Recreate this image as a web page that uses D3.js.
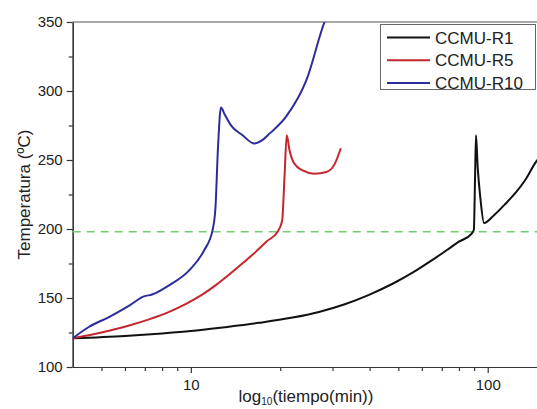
<!DOCTYPE html>
<html>
<head>
<meta charset="utf-8">
<script src="https://cdn.jsdelivr.net/npm/d3@7"></script>
<style>
  body { margin: 0; background: #fff; }
  text { font-family: "Liberation Sans", Arial, sans-serif; fill: #222; }
</style>
</head>
<body>
<svg id="chart" width="537" height="409"></svg>
<script>
// CCMU-R1
const r1Time = [4, 6, 8, 10, 13, 17, 22, 27, 33, 40, 48, 56, 64, 72.7, 80, 88.3, 89.8, 90.6, 91.3, 92.5, 94.5, 97.2, 105, 115, 125, 133.6, 146.8, 152];
const r1Temp = [120.8, 122.5, 124.3, 126, 128.8, 132, 135.8, 139.9, 145.5, 152.5, 160.5, 168.5, 176.5, 184.6, 190.8, 196.7, 199.5, 235, 268, 245, 222, 204.3, 210, 218.5, 227, 235.3, 249.8, 253];
// CCMU-R5
const r5Time = [4, 4.53, 5.3, 6.2, 7.23, 8.45, 9.6, 10.95, 12.2, 13.47, 15, 16.57, 18, 19.6, 20.3, 20.7, 21.04, 21.5, 22.3, 23.8, 26.1, 28.6, 30.5, 32];
const r5Temp = [120.8, 123, 126.3, 130.1, 134.5, 139.9, 145.5, 152.6, 159.7, 167, 175.5, 183.6, 191, 198, 206, 240, 268, 257, 247.4, 242.5, 240.1, 241.3, 247, 258.5];
// CCMU-R10
const r10Time = [4, 4.53, 5.3, 6.2, 6.95, 7.4, 8.45, 9.87, 11.09, 11.83, 12.1, 12.35, 12.63, 13.0, 13.65, 14.94, 16.36, 17.3, 18.4, 20.9, 24.5, 28.2, 29.5];
const r10Temp = [120.8, 129, 136.2, 144.5, 151.2, 152.5, 159.2, 170, 184.6, 199, 215, 260, 288, 283, 275.1, 267.9, 261.9, 264, 269.1, 281.2, 307.8, 350, 360];

const seriesNames = ["CCMU-R1", "CCMU-R5", "CCMU-R10"];
const seriesColors = ["#111111", "#c4262e", "#2c2c9c"];
const thresholdTemp = 198;

const yMajorTicks = [100, 150, 200, 250, 300, 350];
const yMinorTicks = [125, 175, 225, 275, 325];
const xMajorTicks = [10, 100];
const xMinorTicks = [5, 6, 7, 8, 9, 20, 30, 40, 50, 60, 70, 80, 90];

const margin = { top: 22, left: 72.7, bottom: 367, right: 540 };

const svg = d3.select("#chart");

const xScale = d3.scaleLog().domain([4, 150]).range([margin.left, margin.right]);
const yScale = d3.scaleLinear().domain([100, 350]).range([margin.bottom, margin.top]);

svg.append("clipPath").attr("id", "plotclip")
  .append("rect")
  .attr("x", margin.left)
  .attr("y", margin.top)
  .attr("width", margin.right - margin.left)
  .attr("height", margin.bottom - margin.top);

// top frame line
svg.append("line")
  .attr("x1", margin.left).attr("x2", margin.right)
  .attr("y1", margin.top).attr("y2", margin.top)
  .attr("stroke", "#555").attr("stroke-width", 1.2);

// axes
svg.append("g")
  .attr("transform", `translate(0,${margin.bottom})`)
  .call(d3.axisBottom(xScale).tickValues(xMajorTicks).tickFormat(d3.format("d")).tickSize(6).tickPadding(6).tickSizeOuter(0));
svg.append("g")
  .attr("transform", `translate(0,${margin.bottom})`)
  .call(d3.axisBottom(xScale).tickValues(xMinorTicks).tickFormat("").tickSize(4).tickSizeOuter(0));

svg.append("g")
  .attr("transform", `translate(${margin.left},0)`)
  .call(d3.axisLeft(yScale).tickValues(yMajorTicks).tickSize(6).tickPadding(4).tickSizeOuter(0));
svg.append("g")
  .attr("transform", `translate(${margin.left},0)`)
  .call(d3.axisLeft(yScale).tickValues(yMinorTicks).tickFormat("").tickSize(4).tickSizeOuter(0));

svg.selectAll(".domain, .tick line").attr("stroke", "#333").attr("stroke-width", 1.2);
svg.selectAll(".tick text").style("font-size", "15px").style("font-family", "'Liberation Sans', Arial, sans-serif").attr("fill", "#222");

// axis titles
const xTitle = svg.append("text")
  .attr("x", 306)
  .attr("y", 402)
  .attr("text-anchor", "middle")
  .style("font-size", "17px");
xTitle.append("tspan").text("log");
xTitle.append("tspan").attr("dy", 3).style("font-size", "10px").text("10");
xTitle.append("tspan").attr("dy", -3).text("(tiempo(min))");

svg.append("text")
  .attr("transform", `translate(30,${(margin.top + margin.bottom) / 2}) rotate(-90)`)
  .attr("text-anchor", "middle")
  .style("font-size", "17px")
  .text("Temperatura (ºC)");

// threshold line
svg.append("line")
  .attr("x1", margin.left).attr("x2", margin.right)
  .attr("y1", yScale(thresholdTemp)).attr("y2", yScale(thresholdTemp))
  .attr("stroke", "#6fd06f")
  .attr("stroke-width", 1.6)
  .attr("stroke-dasharray", "8,6");

// series
const line = d3.line()
  .curve(d3.curveMonotoneX)
  .x((d) => xScale(d[0]))
  .y((d) => yScale(d[1]));

const seriesData = [
  d3.zip(r1Time, r1Temp),
  d3.zip(r5Time, r5Temp),
  d3.zip(r10Time, r10Temp),
];

svg.append("g")
  .attr("clip-path", "url(#plotclip)")
  .selectAll("path")
  .data(seriesData)
  .join("path")
  .attr("d", line)
  .attr("fill", "none")
  .attr("stroke", (d, i) => seriesColors[i])
  .attr("stroke-width", 2)
  .attr("stroke-linejoin", "round");

// legend
const legend = svg.append("g");
legend.append("rect")
  .attr("x", 380.5).attr("y", 24.5)
  .attr("width", 155).attr("height", 65)
  .attr("fill", "#fff")
  .attr("stroke", "#666").attr("stroke-width", 1);

seriesNames.forEach((name, i) => {
  const ly = 37.5 + i * 22.7;
  legend.append("line")
    .attr("x1", 387).attr("x2", 430)
    .attr("y1", ly).attr("y2", ly)
    .attr("stroke", seriesColors[i]).attr("stroke-width", 2);
  legend.append("text")
    .attr("x", 435).attr("y", ly)
    .attr("dy", "0.36em")
    .style("font-size", "17px")
    .text(name);
});
</script>
</body>
</html>
